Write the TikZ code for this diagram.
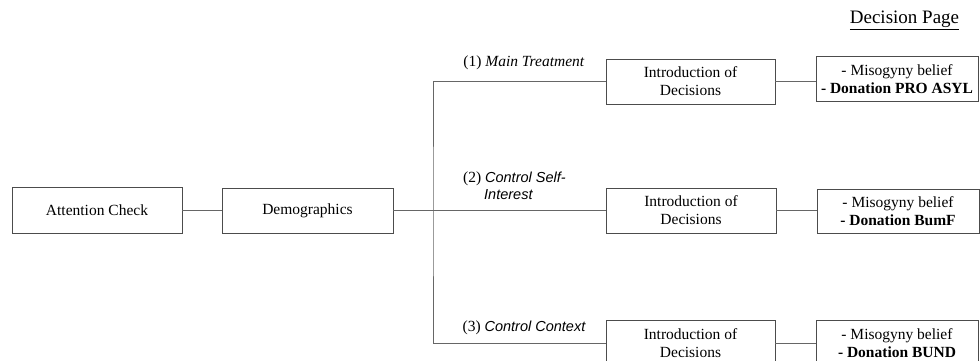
\documentclass[tikz,border=0pt]{standalone}
\usepackage{fontspec}
\setmainfont{Liberation Serif}
\newfontfamily\sansit{Liberation Sans}
\begin{document}
\begin{tikzpicture}[x=1pt,y=-1pt,
  box/.style={draw=black!70, line width=0.9pt, inner sep=0pt, align=center,
    font=\fontsize{15.5}{18}\selectfont},
  conn/.style={draw=black!60, line width=1pt},
  lbl/.style={inner sep=0pt, align=center, font=\fontsize{15.5}{17}\selectfont}]
\useasboundingbox (0,0) rectangle (980,361);
\clip (0,0) rectangle (980,361);
\node[box, minimum width=170pt, minimum height=46pt] (att) at (97,210.5) {Attention Check};
\node[box, minimum width=171pt, minimum height=45pt] (dem) at (307.5,210.5) {Demographics};
\node[box, minimum width=169pt, minimum height=45pt] (in1) at (690.5,81.5) {Introduction of\\Decisions};
\node[box, minimum width=170pt, minimum height=45pt] (in2) at (691,210.5) {Introduction of\\Decisions};
\node[box, minimum width=169pt, minimum height=46pt] (in3) at (690.5,343) {Introduction of\\Decisions};
\node[box, minimum width=162pt, minimum height=45pt] (r1) at (897,79) {- Misogyny belief\\\textbf{- Donation PRO ASYL}};
\node[box, minimum width=162pt, minimum height=44pt] (r2) at (898,211) {- Misogyny belief\\\textbf{- Donation BumF}};
\node[box, minimum width=162pt, minimum height=46pt] (r3) at (897,343) {- Misogyny belief\\\textbf{- Donation BUND}};
\coordinate (j) at (433,210.5);
\draw[conn] (att) -- (dem);
\draw[conn] (dem) -- (in2);
\draw[conn] (in1.west) -| (j) |- (in3.west);
\draw[conn] (in1) -- (r1.west |- in1);
\draw[conn] (in2) -- (r2.west |- in2);
\draw[conn] (in3) -- (r3.west |- in3);
\node[lbl] (l1) at (524,62.5) {(1) \textit{Main Treatment}};
\node[lbl, align=left, anchor=west] (l2) at (463,186) {(2) {\fontsize{14.5}{17}\selectfont\sansit\itshape Control Self-}\\\hspace*{21pt}{\fontsize{14.5}{17}\selectfont\sansit\itshape Interest}};
\node[lbl] (l3) at (524,328) {(3) {\fontsize{14.5}{17}\selectfont\sansit\itshape Control Context}};
\node[inner sep=0pt, font=\fontsize{19}{22}\selectfont] (title) at (904.5,20) {\underline{Decision Page}};
\end{tikzpicture}
\end{document}
